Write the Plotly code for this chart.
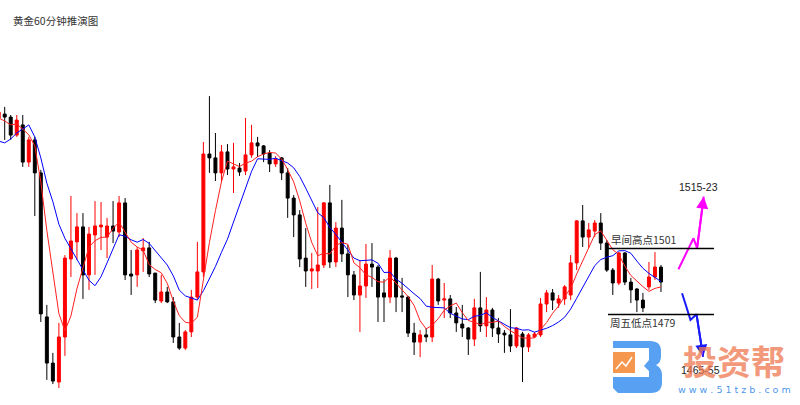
import plotly.graph_objects as go

# ---------------- data ----------------
idx = list(range(-1, 110))

open_ = [1544.5, 1545.8, 1544.8, 1538.8, 1542.2, 1529.8, 1537.2, 1526.2, 1478.2, 1462.8,
         1456.5, 1471.5, 1497.5, 1503.2, 1508.2, 1492.2, 1505.5, 1508.2, 1504.8, 1508.5,
         1506.5, 1516.2, 1492.5, 1492.2, 1500.2, 1501.2, 1492.8, 1483.5, 1486.5, 1483.2,
         1471.5, 1467.8, 1473.2, 1484.8, 1493.2, 1532.5, 1531.2, 1526.2, 1533.2, 1527.5,
         1527.8, 1526.8, 1532.2, 1536.2, 1535.2, 1532.8, 1529.2, 1531.2, 1526.2, 1517.8,
         1512.2, 1497.8, 1493.5, 1493.5, 1495.5, 1516.2, 1496.5, 1507.8, 1499.2, 1492.2,
         1485.5, 1488.5, 1495.8, 1494.8, 1486.2, 1484.8, 1497.8, 1485.2, 1484.8, 1472.8,
         1469.8, 1472.2, 1471.5, 1490.8, 1483.8, 1484.2, 1479.5, 1475.8, 1474.5, 1470.8,
         1481.2, 1475.2, 1480.5, 1474.5, 1472.8, 1472.2, 1468.5, 1472.5, 1468.2, 1471.5,
         1472.2, 1482.5, 1486.2, 1482.8, 1484.2, 1485.5, 1496.2, 1510.2, 1504.8, 1506.8,
         1509.5, 1502.8, 1493.8, 1489.5, 1499.5, 1489.8, 1487.5, 1483.8, 1488.2, 1491.5,
         1494.8]

high = [1547.8, 1548.2, 1545.5, 1545.5, 1545.5, 1538.2, 1538.2, 1527.2, 1482.2, 1466.2,
        1476.2, 1498.8, 1518.5, 1512.8, 1512.8, 1508.2, 1516.8, 1516.5, 1511.2, 1516.8,
        1518.5, 1517.8, 1500.5, 1501.5, 1504.5, 1503.2, 1492.8, 1492.2, 1488.2, 1484.8,
        1476.2, 1473.8, 1487.2, 1503.2, 1536.5, 1551.8, 1539.5, 1535.5, 1535.8, 1536.2,
        1529.5, 1544.5, 1542.2, 1538.2, 1535.5, 1533.8, 1531.8, 1531.5, 1527.8, 1518.8,
        1513.8, 1507.8, 1499.5, 1514.8, 1516.5, 1522.2, 1509.8, 1517.2, 1502.2, 1493.5,
        1497.2, 1502.5, 1502.8, 1495.5, 1490.8, 1500.5, 1498.2, 1491.2, 1485.2, 1476.2,
        1473.8, 1474.5, 1495.5, 1491.2, 1489.5, 1485.5, 1481.5, 1482.2, 1474.8, 1484.2,
        1493.2, 1484.8, 1481.2, 1477.8, 1473.8, 1480.8, 1474.8, 1473.2, 1472.8, 1473.2,
        1484.5, 1487.2, 1487.5, 1485.5, 1488.8, 1498.8, 1510.5, 1515.5, 1509.5, 1510.5,
        1512.8, 1503.8, 1494.5, 1499.8, 1499.8, 1491.2, 1487.8, 1486.2, 1496.5, 1499.8,
        1495.5]

low = [1543.2, 1537.2, 1537.2, 1538.2, 1528.2, 1528.2, 1511.8, 1476.5, 1457.2, 1455.8,
       1454.5, 1465.2, 1491.5, 1497.2, 1484.2, 1487.2, 1492.2, 1500.5, 1497.8, 1502.8,
       1504.8, 1490.5, 1485.5, 1488.2, 1493.2, 1491.5, 1482.8, 1482.8, 1482.8, 1469.5,
       1467.2, 1467.2, 1471.5, 1483.8, 1491.5, 1526.2, 1523.5, 1523.2, 1525.5, 1519.5,
       1525.2, 1525.5, 1531.2, 1531.5, 1529.8, 1526.5, 1528.2, 1523.8, 1511.2, 1504.8,
       1494.8, 1488.2, 1487.5, 1487.8, 1494.5, 1494.5, 1494.8, 1496.5, 1484.8, 1483.8,
       1473.2, 1484.5, 1488.2, 1476.5, 1476.5, 1482.8, 1479.8, 1479.8, 1471.5, 1465.5,
       1464.8, 1469.8, 1469.8, 1482.2, 1477.8, 1477.8, 1473.2, 1471.5, 1465.5, 1468.5,
       1473.2, 1471.5, 1471.5, 1469.5, 1466.2, 1466.5, 1467.8, 1456.5, 1466.5, 1471.2,
       1471.5, 1479.8, 1480.5, 1481.2, 1482.2, 1483.8, 1493.8, 1501.5, 1501.2, 1504.8,
       1500.5, 1493.2, 1485.5, 1488.8, 1488.8, 1482.8, 1479.8, 1479.8, 1487.2, 1490.5,
       1486.5]

close = [1546.5, 1544.8, 1538.8, 1543.8, 1529.8, 1537.2, 1526.2, 1479.2, 1462.8, 1456.8,
         1471.5, 1497.8, 1503.5, 1508.2, 1492.2, 1505.8, 1508.5, 1508.8, 1508.5, 1506.8,
         1516.2, 1492.2, 1491.8, 1500.5, 1501.2, 1492.5, 1483.8, 1486.5, 1483.2, 1471.5,
         1467.8, 1473.2, 1484.8, 1493.2, 1532.5, 1531.2, 1526.2, 1533.2, 1527.5, 1528.2,
         1526.5, 1532.2, 1536.2, 1535.2, 1532.5, 1529.2, 1530.8, 1526.2, 1517.8, 1512.2,
         1497.5, 1493.5, 1494.2, 1495.5, 1516.2, 1496.5, 1507.8, 1499.2, 1492.2, 1485.5,
         1488.5, 1495.8, 1494.8, 1484.8, 1484.8, 1497.8, 1484.8, 1484.8, 1472.8, 1469.8,
         1472.2, 1471.5, 1490.8, 1483.5, 1484.2, 1479.5, 1476.2, 1474.5, 1470.8, 1481.2,
         1475.2, 1480.5, 1474.5, 1472.5, 1472.2, 1468.5, 1474.5, 1468.2, 1472.2, 1472.5,
         1482.5, 1486.2, 1483.8, 1484.2, 1488.2, 1496.2, 1510.2, 1504.8, 1507.2, 1509.5,
         1502.8, 1493.8, 1489.5, 1499.5, 1489.8, 1487.2, 1483.8, 1481.2, 1491.5, 1494.8,
         1489.8]

ma5 = [1544.5, 1543.5, 1542.2, 1542.5, 1540.8, 1538.9, 1535.2, 1523.2, 1507.0, 1492.4,
       1479.3, 1473.6, 1478.5, 1487.6, 1494.6, 1501.5, 1503.6, 1504.7, 1504.8, 1507.7,
       1509.8, 1506.5, 1503.1, 1501.5, 1500.4, 1495.6, 1494.0, 1492.9, 1489.4, 1483.5,
       1478.6, 1476.4, 1476.1, 1478.1, 1490.3, 1503.0, 1513.6, 1523.2, 1530.1, 1529.2,
       1528.3, 1529.5, 1530.1, 1531.6, 1532.5, 1533.0, 1532.8, 1530.8, 1527.3, 1523.2,
       1516.9, 1509.4, 1503.0, 1498.6, 1499.4, 1499.2, 1502.0, 1503.0, 1502.4, 1496.2,
       1494.6, 1492.2, 1491.4, 1489.9, 1489.8, 1491.6, 1489.4, 1487.4, 1485.0, 1482.0,
       1476.9, 1474.2, 1475.4, 1477.6, 1480.4, 1481.9, 1482.8, 1479.6, 1477.0, 1476.4,
       1475.6, 1476.4, 1476.4, 1476.8, 1475.0, 1473.6, 1472.4, 1471.2, 1471.1, 1471.2,
       1474.0, 1476.3, 1479.4, 1481.8, 1485.0, 1487.7, 1492.5, 1496.7, 1501.3, 1505.6,
       1506.9, 1503.6, 1500.6, 1499.0, 1495.1, 1492.0, 1490.0, 1488.3, 1486.7, 1487.7,
       1488.2]

ma10 = [1536.8, 1536.2, 1537.5, 1539.5, 1540.8, 1542.2, 1538.2, 1531.2, 1522.8, 1516.6,
        1509.1, 1504.4, 1500.9, 1497.3, 1493.5, 1490.4, 1488.6, 1491.6, 1496.2, 1501.2,
        1505.6, 1505.1, 1503.9, 1503.1, 1504.0, 1502.7, 1500.2, 1498.0, 1495.5, 1491.9,
        1487.1, 1485.2, 1484.5, 1483.8, 1486.9, 1490.8, 1495.0, 1499.7, 1504.1, 1509.8,
        1515.6, 1521.5, 1526.7, 1530.9, 1530.9, 1530.7, 1531.1, 1530.4, 1529.5, 1527.9,
        1525.0, 1521.1, 1516.9, 1512.9, 1511.3, 1508.0, 1505.7, 1503.0, 1500.5, 1497.8,
        1496.9, 1497.1, 1497.2, 1496.1, 1493.0, 1493.1, 1490.8, 1489.4, 1487.5, 1485.9,
        1484.3, 1481.8, 1481.4, 1481.3, 1481.2, 1479.4, 1478.5, 1477.5, 1477.3, 1478.4,
        1478.7, 1479.6, 1478.0, 1476.9, 1475.7, 1474.6, 1474.4, 1473.8, 1473.9, 1473.1,
        1473.8, 1474.4, 1475.3, 1476.5, 1478.1, 1480.8, 1484.4, 1488.1, 1491.6, 1495.3,
        1497.3, 1498.1, 1498.6, 1500.2, 1500.3, 1499.4, 1496.8, 1494.4, 1492.7, 1491.2,
        1490.0]

title_text = "黄金60分钟推演图"
resistance = 1501
support = 1479
resistance_label = "早间高点1501"
support_label = "周五低点1479"
bull_target = "1515-23"
bear_target = "1465-55"
# hand-drawn forecast paths (bar index, price)
bull_path_x = [111.9, 114.4, 115.0, 116.1]
bull_path_y = [1494.1, 1504.4, 1501.1, 1518.3]
bear_path_x = [112.5, 113.9, 114.9, 116.0]
bear_path_y = [1486.1, 1477.2, 1479.1, 1464.9]

# ---------------- figure ----------------
W, H = 800, 405
fig = go.Figure()

fig.add_trace(go.Candlestick(
    x=idx, open=open_, high=high, low=low, close=close,
    increasing=dict(line=dict(color="#ff0000", width=1), fillcolor="#ff0000"),
    decreasing=dict(line=dict(color="#000000", width=1), fillcolor="#000000"),
    whiskerwidth=0, hoverinfo="skip", showlegend=False))

fig.add_trace(go.Scatter(x=idx, y=ma10, mode="lines",
                         line=dict(color="#0000ff", width=1), hoverinfo="skip"))
fig.add_trace(go.Scatter(x=idx, y=ma5, mode="lines",
                         line=dict(color="#ff2020", width=1), hoverinfo="skip"))

# level lines
for lvl in (resistance, support):
    fig.add_shape(type="line", x0=100.2, x1=117.8, y0=lvl, y1=lvl,
                  xref="x", yref="y", line=dict(color="#000000", width=1.6))

# forecast paths
fig.add_trace(go.Scatter(x=bull_path_x, y=bull_path_y, mode="lines",
                         line=dict(color="#ff00ff", width=2), hoverinfo="skip"))
fig.add_trace(go.Scatter(x=bear_path_x, y=bear_path_y, mode="lines",
                         line=dict(color="#1a1aff", width=2), hoverinfo="skip"))
fig.add_annotation(x=bull_path_x[-1], y=bull_path_y[-1], ax=bull_path_x[-2], ay=bull_path_y[-2],
                   xref="x", yref="y", axref="x", ayref="y", text="", showarrow=True,
                   arrowhead=2, arrowsize=1.2, arrowwidth=2, arrowcolor="#ff00ff")
fig.add_annotation(x=bear_path_x[-1], y=bear_path_y[-1], ax=bear_path_x[-2], ay=bear_path_y[-2],
                   xref="x", yref="y", axref="x", ayref="y", text="", showarrow=True,
                   arrowhead=2, arrowsize=1.2, arrowwidth=2, arrowcolor="#1a1aff")

cjk = "Noto Sans CJK SC"
fig.add_annotation(x=100.5, y=resistance, xref="x", yref="y", text=resistance_label,
                   showarrow=False, xanchor="left", yanchor="bottom",
                   font=dict(family=cjk, size=10.5, color="#333333"), borderpad=0)
fig.add_annotation(x=100.3, y=support, xref="x", yref="y", text=support_label,
                   showarrow=False, xanchor="left", yanchor="top",
                   font=dict(family=cjk, size=10.5, color="#333333"), borderpad=0)
fig.add_annotation(x=115.2, y=1521.5, xref="x", yref="y", text=bull_target,
                   showarrow=False, xanchor="center", yanchor="middle",
                   font=dict(family="Liberation Sans", size=10.5, color="#222222"))
fig.add_annotation(x=115.6, y=1460.5, xref="x", yref="y", text=bear_target,
                   showarrow=False, xanchor="center", yanchor="middle",
                   font=dict(family="Liberation Sans", size=10.5, color="#222222"))

# title
fig.add_annotation(x=11 / W, y=1 - 20 / H, xref="paper", yref="paper", text=title_text,
                   showarrow=False, xanchor="left", yanchor="middle",
                   font=dict(family=cjk, size=10.5, color="#333333"))

# watermark logo (decoration)
def px(x):
    return x / W
def py(y):
    return 1 - y / H

fig.add_annotation(x=px(734), y=py(360), xref="paper", yref="paper", text="<b>投资帮</b>",
                   showarrow=False, xanchor="center", yanchor="middle", borderpad=0,
                   font=dict(family=cjk, size=34, color="rgba(240,120,80,0.75)"))
fig.add_annotation(x=px(734), y=py(389.5), xref="paper", yref="paper", text="w w w . 5 1 t z b . c o m",
                   showarrow=False, xanchor="center", yanchor="middle", borderpad=0,
                   font=dict(family="DejaVu Sans", size=9.5, color="rgba(40,130,230,0.85)"))
# "B" mark
fig.add_shape(type="path", xref="paper", yref="paper",
              path=(f"M {px(613)},{py(341)} L {px(650)},{py(341)} Q {px(661)},{py(341)} {px(661)},{py(351)} "
                    f"L {px(661)},{py(356)} Q {px(661)},{py(363)} {px(656)},{py(365)} "
                    f"Q {px(662)},{py(368)} {px(662)},{py(375)} L {px(662)},{py(382)} "
                    f"Q {px(662)},{py(393)} {px(651)},{py(393)} L {px(618)},{py(393)} L {px(613)},{py(388)} Z"),
              fillcolor="rgba(70,150,240,0.9)", line=dict(width=0))
fig.add_shape(type="path", xref="paper", yref="paper",
              path=(f"M {px(613)},{py(348)} L {px(649)},{py(348)} L {px(649)},{py(360)} "
                    f"L {px(644)},{py(366)} L {px(649)},{py(371)} L {px(649)},{py(377)} "
                    f"L {px(613)},{py(377)} Z"),
              fillcolor="white", line=dict(width=0))
fig.add_shape(type="rect", xref="paper", yref="paper",
              x0=px(613), x1=px(635), y0=py(352), y1=py(373),
              fillcolor="rgba(245,140,60,0.9)", line=dict(width=0))
fig.add_shape(type="path", xref="paper", yref="paper",
              path=f"M {px(616)},{py(369)} L {px(622)},{py(362)} L {px(626)},{py(366)} L {px(632)},{py(357)}",
              line=dict(color="white", width=1.5))

fig.update_layout(
    width=W, height=H, margin=dict(l=0, r=0, t=0, b=0),
    paper_bgcolor="white", plot_bgcolor="white", showlegend=False,
    xaxis=dict(range=[-0.78, 132.09], visible=False, rangeslider=dict(visible=False), fixedrange=True),
    yaxis=dict(range=[1583.83 - H / 3, 1583.83], visible=False, fixedrange=True),
    hovermode=False,
)

fig.write_html("out.html", config={"displayModeBar": False},
               post_script="document.body.style.margin='0';document.body.style.padding='0';")
